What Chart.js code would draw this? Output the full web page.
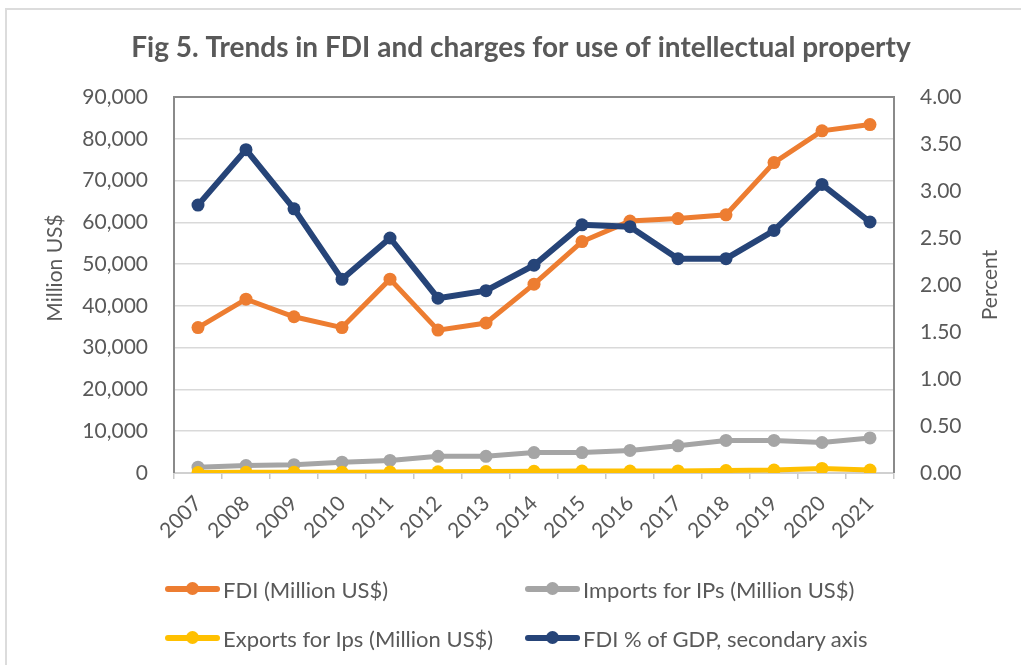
<!DOCTYPE html>
<html>
<head>
<meta charset="utf-8">
<script src="https://cdn.jsdelivr.net/npm/chart.js@4.4.1/dist/chart.umd.min.js"></script>
<style>
  body { margin: 0; background: #fff; }
  #wrap { position: relative; width: 1021px; height: 665px; overflow: hidden; }
  #frame { position: absolute; left: 5px; top: 8px; width: 1030px; height: 680px;
           border-top: 2px solid #dcdcdc; border-left: 2px solid #dcdcdc; }
  canvas { position: absolute; left: 0; top: 0; }
  .lg { position: absolute; height: 30px; display: flex; align-items: center;
        font-family: Lato, "Open Sans", sans-serif; font-size: 22px; color: #595959; white-space: nowrap; }
  .sym { position: relative; width: 55px; height: 30px; margin-right: 3px; }
  .sym .ln { position: absolute; left: 0; right: 0; top: 12px; height: 6px; border-radius: 3px; }
  .sym .dt { position: absolute; left: 21px; top: 8px; width: 13px; height: 13px; border-radius: 50%; }
</style>
</head>
<body>
<div id="wrap">
  <div id="frame"></div>
  <canvas id="chart" width="1021" height="665"></canvas>
  <div id="legend"></div>
</div>
<script>
// data
const years = ['2007','2008','2009','2010','2011','2012','2013','2014','2015','2016','2017','2018','2019','2020','2021'];
const fdi = [34800, 41600, 37400, 34800, 46400, 34200, 35900, 45200, 55400, 60300, 60900, 61800, 74300, 81900, 83400];
const importsIP = [1400, 1800, 2000, 2600, 3000, 4000, 4000, 4900, 4900, 5400, 6500, 7800, 7800, 7300, 8400];
const exportsIP = [100, 150, 200, 200, 250, 300, 350, 400, 450, 450, 500, 600, 700, 1100, 700];
const fdiPctGdp = [2.85, 3.44, 2.81, 2.06, 2.50, 1.86, 1.94, 2.21, 2.64, 2.62, 2.28, 2.28, 2.58, 3.07, 2.67];

const seriesNames = ['FDI (Million US$)', 'Imports for IPs (Million US$)', 'Exports for Ips (Million US$)', 'FDI % of GDP, secondary axis'];
const colors = ['#ED7D31', '#A5A5A5', '#FFC000', '#264478'];
const titleText = 'Fig 5. Trends in FDI and charges for use of intellectual property';

const FONT = 'Lato, "Open Sans", sans-serif';
const TXT = '#595959';

function mkSet(i, data, axis, order, width) {
  return {
    label: seriesNames[i],
    data: data,
    yAxisID: axis,
    order: order,
    borderColor: colors[i],
    backgroundColor: colors[i],
    borderWidth: width,
    pointRadius: 6.5,
    pointHoverRadius: 6.5,
    pointBorderWidth: 0,
    tension: 0
  };
}

function vText(c, txt, x, y) {
  c.save();
  c.font = '21px ' + FONT;
  c.fillStyle = TXT;
  c.textAlign = 'center';
  c.textBaseline = 'middle';
  c.translate(x, y);
  c.rotate(-Math.PI / 2);
  c.fillText(txt, 0, 0);
  c.restore();
}

// plot frame, title, axis titles
const extras = {
  id: 'extras',
  beforeDatasetsDraw(chart) {
    const a = chart.chartArea, c = chart.ctx;
    c.save();
    c.strokeStyle = '#8a8a8a';
    c.lineWidth = 2;
    c.beginPath();
    c.moveTo(a.left, a.bottom);
    c.lineTo(a.left, a.top);
    c.lineTo(a.right, a.top);
    c.lineTo(a.right, a.bottom);
    c.stroke();
    c.restore();
  },
  afterDraw(chart) {
    const c = chart.ctx;
    c.save();
    c.font = 'bold 28px ' + FONT;
    c.fillStyle = TXT;
    c.textAlign = 'center';
    c.textBaseline = 'middle';
    c.fillText(titleText, 521, 48);
    c.restore();
    vText(c, 'Million US$', 55, 268);
    vText(c, 'Percent', 990, 285);
  }
};

const chart = new Chart(document.getElementById('chart'), {
  type: 'line',
  data: {
    labels: years,
    datasets: [
      mkSet(0, fdi, 'y', 3, 5),
      mkSet(1, importsIP, 'y', 2, 5),
      mkSet(2, exportsIP, 'y', 1, 5),
      mkSet(3, fdiPctGdp, 'y1', 0, 6)
    ]
  },
  options: {
    responsive: false,
    animation: false,
    layout: { padding: { top: 97 } },
    plugins: {
      legend: { display: false },
      tooltip: { enabled: false },
      title: { display: false }
    },
    scales: {
      x: {
        offset: true,
        grid: { offset: true, drawOnChartArea: false, drawTicks: true, tickLength: 6, color: '#c8c8c8', lineWidth: 1.5 },
        border: { display: true, color: '#d0d0d0', width: 2 },
        ticks: { color: TXT, font: { family: FONT, size: 21 }, minRotation: 45, maxRotation: 45, padding: 12 },
        afterFit(s) { s.height = 192; }
      },
      y: {
        position: 'left',
        min: 0, max: 90000,
        ticks: { stepSize: 10000, color: TXT, font: { family: FONT, size: 21 }, padding: 26,
                 callback: v => v.toLocaleString('en-US') },
        grid: { color: '#d9d9d9', lineWidth: 1.5, drawTicks: false },
        border: { display: false },
        afterFit(s) { s.width = 174; }
      },
      y1: {
        position: 'right',
        min: 0, max: 4,
        ticks: { stepSize: 0.5, color: TXT, font: { family: FONT, size: 21 }, padding: 26,
                 callback: v => v.toFixed(2) },
        grid: { drawOnChartArea: false, drawTicks: false },
        border: { display: false },
        afterFit(s) { s.width = 127; }
      }
    }
  },
  plugins: [extras]
});

// legend in two rows, same order as the figure
const legendPos = [[165, 574], [525, 574], [165, 623], [525, 623]];
const lg = document.getElementById('legend');
chart.data.datasets.forEach((ds, i) => {
  const d = document.createElement('div');
  d.className = 'lg';
  d.style.left = legendPos[i][0] + 'px';
  d.style.top = legendPos[i][1] + 'px';
  d.innerHTML = '<div class="sym"><div class="ln" style="background:' + ds.borderColor +
    '"></div><div class="dt" style="background:' + ds.borderColor + '"></div></div><span>' + ds.label + '</span>';
  lg.appendChild(d);
});
</script>
</body>
</html>
